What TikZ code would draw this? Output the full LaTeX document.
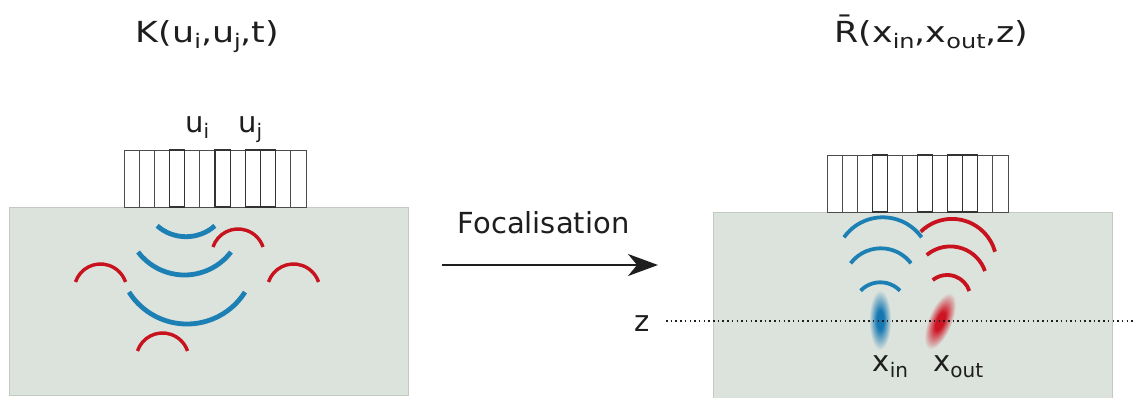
\documentclass[tikz,border=0pt]{standalone}
\usepackage{fontspec}
\setmainfont{DejaVu Sans}
\usepackage{graphicx}
\usetikzlibrary{arrows.meta}

\definecolor{bgfill}{RGB}{220,227,220}
\definecolor{bgline}{RGB}{196,201,196}
\definecolor{wblue}{RGB}{28,128,180}
\definecolor{wred}{RGB}{200,18,30}
\definecolor{spotblue}{RGB}{22,120,178}
\definecolor{spotred}{RGB}{205,20,35}
\definecolor{inkgray}{RGB}{30,30,30}

% soft focal spots fading into the medium colour
\pgfdeclareradialshading{spotin}{\pgfpoint{0bp}{0bp}}{color(0bp)=(spotblue);color(8bp)=(spotblue);color(25bp)=(bgfill);color(50bp)=(bgfill)}
\pgfdeclareradialshading{spotout}{\pgfpoint{0bp}{0bp}}{color(0bp)=(spotred);color(8bp)=(spotred);color(25bp)=(bgfill);color(50bp)=(bgfill)}

\newcommand\subtxt[1]{\raisebox{-0.21em}{\fontsize{20}{20}\selectfont #1}}
\newcommand\wtxt[1]{\scalebox{1.2}[1]{#1}}

\begin{document}
\begin{tikzpicture}[x=1pt,y=-1pt,
  txt/.style={inner sep=0pt, font=\fontsize{29}{33}\selectfont, text=inkgray},
  medium/.style={fill=bgfill, draw=bgline, line width=0.8pt},
  elem/.style={fill=white, draw=black!70, line width=0.9pt},
  elemthick/.style={draw=black!80, line width=1.3pt},
  bluearc/.style={draw=wblue, line width=4.8pt},
  redarc/.style={draw=wred, line width=3.4pt},
  bluearcR/.style={draw=wblue, line width=3.8pt},
  redarcR/.style={draw=wred, line width=3.8pt},
  zline/.style={draw=inkgray, line width=1.5pt, dash pattern=on 1.5pt off 3.2pt},
  focarrow/.style={draw=inkgray, line width=2pt, -{Stealth[length=30pt,width=22pt,inset=9pt]}}
]
\useasboundingbox (0,0) rectangle (1135,397);

% ---- left panel: recorded matrix ----
\draw[medium] (9.5,207) rectangle (408.5,395);
\foreach \k in {0,...,11}
  \draw[elem] ({124+\k*15.17},150) rectangle ++(15.17,57);
\foreach \k in {3,6,8,9}
  \draw[elemthick] ({124+\k*15.17},150) rectangle ++(15.17,57);

% incident wavefronts
\draw[bluearc] (186,193) ++(48.7:43.7) arc[start angle=48.7, end angle=131.3, radius=43.7];
\draw[bluearc] (184.5,216.5) ++(37.4:58.5) arc[start angle=37.4, end angle=142.6, radius=58.5];
\draw[bluearc] (187,255.4) ++(32.3:68.6) arc[start angle=32.3, end angle=147.7, radius=68.6];
% scattered wavelets
\foreach \cx/\cy in {238/255.4, 100.5/290.4, 293.5/290.4, 162.5/359.4}
  \draw[redarc] (\cx,\cy) ++(198.6:26.4) arc[start angle=198.6, end angle=341.4, radius=26.4];

\node[txt, anchor=base] (titleK) at (207.5,42) {\wtxt{K(u\subtxt{i},u\subtxt{j},t)}};
\node[txt, anchor=base west] (ui) at (185,132) {u\subtxt{i}};
\node[txt, anchor=base west] (uj) at (238,132) {u\subtxt{j}};

% ---- transformation arrow ----
\node[txt, anchor=base] (foc) at (543.5,233) {Focalisation};
\coordinate (arrS) at (442,265);
\coordinate (arrE) at (658,265);
\draw[focarrow] (arrS) -- (arrE);

% ---- right panel: focused reflection matrix ----
\draw[medium] (713,212) rectangle (1112,398);
\foreach \k in {0,...,11}
  \draw[elem] ({827+\k*15.08},155) rectangle ++(15.08,57);
\foreach \k in {3,6,8,9}
  \draw[elemthick] ({827+\k*15.08},155) rectangle ++(15.08,57);

% converging (blue) and diverging (red) wavefronts
\draw[bluearcR] (882.8,264.9) ++(215.4:47.6) arc[start angle=215.4, end angle=324.6, radius=47.6];
\draw[bluearcR] (880.8,286.2) ++(217.2:37.9) arc[start angle=217.2, end angle=322.8, radius=37.9];
\draw[bluearcR] (880.3,309.6) ++(223.8:27.3) arc[start angle=223.8, end angle=316.2, radius=27.3];
\draw[redarcR] (952,263.5) ++(225.5:44.6) arc[start angle=225.5, end angle=344.7, radius=44.6];
\draw[redarcR] (950.3,283.1) ++(230:36.7) arc[start angle=230, end angle=340.8, radius=36.7];
\draw[redarcR] (947.2,298.3) ++(231.6:23.3) arc[start angle=231.6, end angle=341.7, radius=23.3];

% focal spots
\shade[shading=spotin] (880,320) ellipse [x radius=11, y radius=30];
\begin{scope}[transform canvas={rotate around={-22:(940,321)}}]
  \shade[shading=spotout] (940,321) ellipse [x radius=12, y radius=30];
\end{scope}

% depth line
\node[txt, anchor=base] (zlab) at (642.5,331) {z};
\coordinate (zs) at (666,321);
\coordinate (ze) at (1135,321);
\draw[zline] (zs) -- (ze);

\node[txt, anchor=base west] (xin) at (872.5,371.5) {x\subtxt{in}};
\node[txt, anchor=base west] (xout) at (933,371.5) {x\subtxt{out}};
\node[txt, anchor=base] (titleR) at (931.5,42) {\wtxt{\=R(x\subtxt{in},x\subtxt{out},z)}};

\end{tikzpicture}
\end{document}
